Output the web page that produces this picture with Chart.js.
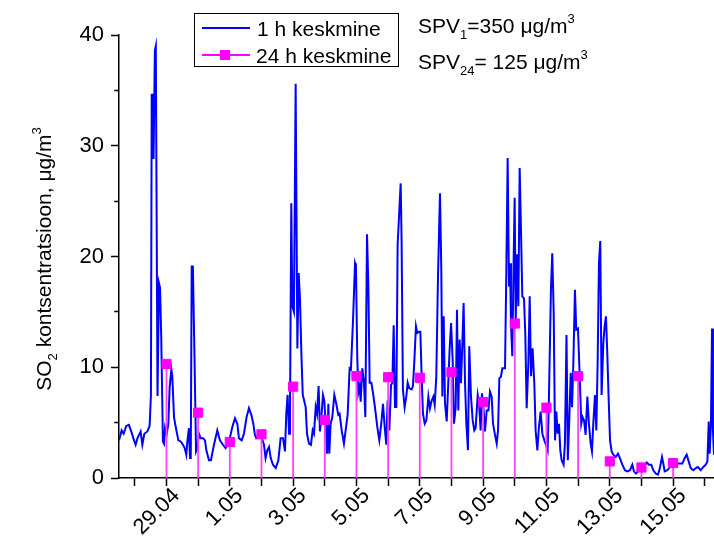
<!DOCTYPE html>
<html>
<head>
<meta charset="utf-8">
<script src="https://cdn.jsdelivr.net/npm/chart.js@4.4.0/dist/chart.umd.min.js"></script>
<style>
  html, body { margin: 0; padding: 0; background: #fff; }
  #wrap { width: 714px; height: 540px; }
</style>
</head>
<body>
<div id="wrap"><canvas id="so2Chart" width="714" height="540"></canvas></div>
<script>
// tunnid alates 27.04 00:00
const hours1h = [
  0, 2, 3.5, 5.5, 7.5, 9.6, 11.4, 12.6, 14, 16.4, 17.7, 19.2, 21.5, 23.2, 24.2, 24.8, 25.6, 26.2, 27.2, 27.9,
  29.2, 30.3, 31.1, 32, 33.3, 34.1, 34.9, 36.1, 37.4, 38.4, 39.7, 40.4, 41.7, 43, 45, 46.7, 48.5, 49.8, 51, 51.8,
  53, 53.8, 54.4, 55.1, 56, 57.3, 58.4, 59.4, 60.6, 61.9, 63.7, 65.2, 66.2, 68.2, 69.7, 72, 74.5, 76.5, 78.8, 80.8,
  83.4, 85.9, 87.9, 89.7, 90.9, 93, 94.7, 96.7, 98.5, 100.3, 101.8, 103, 104, 106, 108, 109.9, 111.1, 112.4, 113.7, 115,
  116.7, 118.8, 120.8, 122.5, 124.3, 125.8, 126.8, 127.8, 128.9, 129.6, 130.6, 131.4, 132.6, 133.9, 135.2, 136.2, 137.2, 138.3, 139.3, 140.5,
  141.5, 142.5, 144, 145.5, 146.8, 147.8, 149.1, 150.1, 151.3, 152.3, 153.4, 154.6, 155.6, 156.6, 157.7, 158.7, 159.4, 160.4, 161.7, 163.2,
  164.7, 166.2, 167.2, 168.8, 170.5, 172.1, 173.3, 174.8, 175.8, 177.4, 178.9, 179.6, 180.6, 181.4, 182.4, 183.2, 184.4, 185.7, 186.7, 188,
  189, 190, 191.3, 192.5, 194, 195.8, 197.3, 198.8, 200.1, 201.4, 202.6, 203.6, 204.9, 206.2, 207.2, 208.2, 209.2, 210.2, 211.2, 212.5,
  213.5, 214.2, 215.2, 216.5, 217.8, 218.8, 220, 221.8, 222.8, 223.8, 225.1, 226.1, 227.4, 228.4, 229.4, 230.4, 231.7, 233, 234.5, 235.7,
  237, 238.3, 239.3, 240.5, 241.8, 243.3, 244.3, 245.1, 246.1, 247.1, 248.4, 249.4, 250.6, 251.7, 252.9, 253.9, 255.2, 256.2, 257.2, 258.2,
  259.2, 260.2, 261.2, 262.3, 263.3, 264.5, 265.5, 266.8, 268.1, 269.3, 270.3, 271.9, 272.9, 274.1, 275.1, 276.4, 277.4, 278.7, 280, 281.2,
  282.5, 283.5, 285, 286.3, 287.3, 288.3, 289.5, 290.6, 292.6, 293.6, 294.6, 295.6, 296.4, 297.1, 298.1, 299.1, 299.9, 300.7, 301.7, 302.7,
  303.7, 304.7, 305.7, 307, 308, 309, 310.3, 311.3, 312.3, 313.5, 314.8, 315.8, 317.1, 318.3, 319.6, 320.9, 322.4, 323.6, 324.9, 325.9,
  327.4, 328.4, 329.5, 330.5, 331.5, 332.5, 333.5, 334.5, 335.5, 337, 338, 339.2, 340.2, 341.3, 342.4, 343.4, 344.4, 345.6, 346.6, 347.9,
  349.2, 350.4, 351.4, 352.5, 353.7, 355, 356.2, 357.5, 358.5, 359.5, 360.8, 361.8, 362.8, 363.8, 364.8, 365.8, 367.1, 368.1, 369.1, 370.1,
  371.1, 372.2, 373.4, 374.7, 376.5, 378.2, 379.7, 381.5, 383.5, 385.3, 387.3, 389.1, 390.3, 391.9, 393.4, 395.4, 397.9, 400, 401.7, 403.5,
  405, 406.8, 408.5, 410, 411.6, 412.6, 413.6, 415.6, 417.6, 419.4, 421.2, 423.2, 425.2, 427, 428.8, 430.3, 431.8, 433.3, 435.3, 437.3,
  438.8, 440.9, 442.9, 444.7, 446, 447, 447.7, 448.7, 449.5, 450.2, 451
];
const conc1h = [
  3.4, 4.3, 4.0, 4.7, 4.8, 4.1, 3.4, 3.0, 3.6, 4.2, 3.0, 4.0, 4.2, 4.7, 7.5, 34.6, 34.6, 28.8, 38.6, 39.0,
  7.4, 17.6, 17.2, 12.8, 3.3, 3.1, 4.5, 3.9, 4.9, 8.2, 9.8, 9.2, 5.5, 4.6, 3.4, 3.3, 3.0, 2.7, 2.1, 3.3,
  4.5, 1.8, 1.8, 19.1, 19.1, 10.4, 2.4, 2.7, 4.0, 3.6, 3.6, 3.4, 2.5, 1.6, 1.6, 3.0, 4.3, 3.4, 3.0, 2.7,
  3.3, 4.6, 5.4, 4.9, 3.6, 3.4, 4.0, 5.5, 6.3, 5.7, 4.9, 3.9, 3.6, 3.9, 3.7, 3.0, 1.8, 2.5, 2.8, 1.8,
  1.2, 0.9, 1.6, 3.6, 3.6, 2.4, 5.8, 7.5, 4.0, 5.5, 24.8, 15.5, 15.0, 35.6, 11.7, 18.5, 16.1, 11.0, 7.5, 6.9,
  6.4, 4.0, 3.1, 3.0, 4.3, 4.0, 6.4, 5.8, 8.3, 4.2, 5.5, 7.5, 7.0, 5.0, 2.2, 6.7, 2.2, 4.9, 5.5, 7.5,
  6.7, 5.7, 5.8, 4.3, 3.1, 4.6, 5.7, 9.9, 9.8, 14.3, 19.4, 19.1, 11.0, 7.7, 8.3, 6.9, 9.9, 8.6, 5.5, 22.0,
  17.3, 8.6, 8.6, 7.7, 6.4, 4.6, 3.4, 4.9, 6.7, 4.6, 3.0, 7.0, 4.3, 8.4, 8.6, 13.8, 6.4, 6.4, 21.1, 24.2,
  26.6, 21.5, 8.0, 6.4, 7.4, 8.6, 8.1, 8.0, 8.3, 10.4, 13.7, 13.1, 13.2, 13.2, 9.2, 5.8, 4.9, 5.2, 7.35, 6.3,
  7.0, 7.35, 6.6, 9.2, 18.2, 25.7, 18.8, 7.35, 14.6, 6.75, 5.1, 8.0, 11.6, 14.0, 10.7, 4.9, 6.4, 15.2, 6.1, 12.5,
  8.55, 11.9, 15.8, 8.55, 4.9, 2.5, 11.9, 7.35, 5.2, 4.3, 4.5, 7.5, 6.75, 4.3, 7.65, 6.1, 4.2, 6.1, 6.1, 7.8,
  7.35, 4.9, 3.9, 3.1, 4.3, 9.0, 9.15, 9.9, 9.9, 18.8, 28.9, 17.3, 19.4, 14.0, 11.0, 19.4, 25.3, 14.3, 20.2, 15.5,
  28.0, 22.4, 16.4, 16.2, 12.8, 6.3, 10.4, 16.4, 9.2, 11.7, 8.55, 4.3, 2.5, 4.6, 6.0, 4.0, 3.4, 3.0, 2.5, 7.35,
  17.0, 20.3, 14.9, 3.4, 6.0, 4.0, 4.9, 2.5, 1.6, 1.2, 3.1, 12.9, 1.6, 5.2, 9.5, 6.4, 10.4, 17.0, 13.4, 13.5,
  9.2, 4.9, 5.5, 5.2, 3.9, 7.35, 4.9, 3.1, 2.4, 4.9, 7.5, 4.3, 10.4, 19.4, 21.4, 7.5, 12.2, 13.7, 14.6, 11.3,
  7.35, 3.4, 2.4, 2.1, 1.9, 2.2, 1.8, 1.2, 0.7, 0.6, 0.7, 1.2, 0.6, 0.4, 0.6, 0.7, 1.1, 1.4, 1.2, 1.2,
  0.7, 0.4, 0.3, 0.9, 1.9, 1.3, 0.6, 0.7, 1.0, 1.0, 1.2, 1.3, 1.3, 1.3, 1.8, 2.1, 1.5, 0.9, 0.7, 0.9,
  1.0, 0.7, 1.0, 1.2, 1.5, 5.1, 2.2, 4.9, 13.5, 4.3, 2.1
];

// ööpäeva keskmised (keskpäev)
const hours24h = [36, 60, 84, 108, 132, 156, 180, 204, 228, 252, 276, 300, 324, 348, 372, 396, 420];
const conc24h = [10.3, 5.9, 3.25, 3.95, 8.25, 5.25, 9.2, 9.1, 9.05, 9.55, 6.85, 13.95, 6.35, 9.2, 1.5, 0.95, 1.35];

// telje märgendid
const tickHours = [0, 24, 48, 72, 96, 120, 144, 168, 192, 216, 240, 264, 288, 312, 336, 360, 384, 408, 432];
const labelHours = [48, 96, 144, 192, 240, 288, 336, 384, 432];
const labelTexts = ['29.04', '1.05', '3.05', '5.05', '7.05', '9.05', '11.05', '13.05', '15.05'];

const FONT = '"Liberation Sans", Arial, sans-serif';

// teksti joonistamine ala- ja ülaindeksitega
function drawRich(ctx, parts, x, y, size, center) {
  const small = Math.round(size * 0.62);
  let w = 0;
  parts.forEach(p => {
    ctx.font = (p[1] ? small : size) + 'px ' + FONT;
    w += ctx.measureText(p[0]).width;
  });
  let cx = center ? x - w / 2 : x;
  parts.forEach(p => {
    ctx.font = (p[1] ? small : size) + 'px ' + FONT;
    let dy = 0;
    if (p[1] === 'sub') dy = size * 0.28;
    if (p[1] === 'sup') dy = -size * 0.5;
    ctx.fillText(p[0], cx, y + dy);
    cx += ctx.measureText(p[0]).width;
  });
}

const extrasPlugin = {
  id: 'extras',
  afterDraw(chart) {
    const ctx = chart.ctx;
    ctx.save();
    ctx.fillStyle = '#000';
    ctx.textBaseline = 'alphabetic';
    ctx.textAlign = 'left';

    // legend
    ctx.strokeStyle = '#000';
    ctx.lineWidth = 1;
    ctx.strokeRect(194.5, 13.5, 204, 53);
    ctx.lineWidth = 2;
    ctx.strokeStyle = '#0000ff';
    ctx.beginPath(); ctx.moveTo(202, 28); ctx.lineTo(250, 28); ctx.stroke();
    ctx.strokeStyle = '#ff00ff';
    ctx.beginPath(); ctx.moveTo(202, 55); ctx.lineTo(250, 55); ctx.stroke();
    ctx.fillStyle = '#ff00ff';
    ctx.fillRect(220, 50, 10, 10);
    ctx.fillStyle = '#000';
    ctx.font = '21px ' + FONT;
    ctx.fillText('1 h keskmine', 257, 36);
    ctx.fillText('24 h keskmine', 256, 63);

    // piirväärtused
    drawRich(ctx, [['SPV'], ['1', 'sub'], ['=350 μg/m'], ['3', 'sup']], 418, 33, 21, false);
    drawRich(ctx, [['SPV'], ['24', 'sub'], ['= 125 μg/m'], ['3', 'sup']], 418, 69, 21, false);

    // y-telje pealkiri
    ctx.translate(51, 259);
    ctx.rotate(-Math.PI / 2);
    drawRich(ctx, [['SO'], ['2', 'sub'], [' kontsentratsioon, μg/m'], ['3', 'sup']], 0, 0, 21, true);
    ctx.restore();
  }
};

let ctx = document.getElementById('so2Chart').getContext('2d');
let so2Chart = new Chart(ctx, {
  type: 'line',
  data: {
    datasets: [{
      type: 'line',
      label: '1 h keskmine',
      data: hours1h.map((h, i) => ({ x: h, y: conc1h[i] })),
      borderColor: '#0000ff',
      borderWidth: 2,
      pointRadius: 0,
      tension: 0,
      fill: false,
      order: 3
    }, {
      type: 'bar',
      label: 'püstjooned',
      data: hours24h.map((h, i) => ({ x: h, y: conc24h[i] })),
      backgroundColor: '#ff44ff',
      barThickness: 1.2,
      order: 2
    }, {
      type: 'line',
      label: '24 h keskmine',
      data: hours24h.map((h, i) => ({ x: h, y: conc24h[i] })),
      showLine: false,
      pointStyle: 'rect',
      pointRadius: 6.5,
      pointBorderWidth: 1,
      backgroundColor: '#ff00ff',
      borderColor: '#ff00ff',
      order: 1
    }]
  },
  options: {
    responsive: false,
    animation: false,
    layout: { autoPadding: false, padding: { top: 35, left: 0, right: 0, bottom: 0 } },
    plugins: {
      legend: { display: false },
      tooltip: { enabled: false }
    },
    scales: {
      x: {
        type: 'linear',
        min: 0,
        max: 451,
        offset: false,
        afterBuildTicks: s => { s.ticks = tickHours.map(v => ({ value: v })); },
        afterFit: s => { s.height = 62; s.paddingRight = 0; s.paddingLeft = 0; },
        ticks: {
          autoSkip: false,
          minRotation: 45,
          maxRotation: 45,
          padding: -3,
          labelOffset: -6,
          color: '#000',
          font: { family: FONT, size: 22 },
          callback: v => {
            const i = labelHours.indexOf(v);
            return i >= 0 ? labelTexts[i] : '';
          }
        },
        grid: { drawOnChartArea: false, tickLength: 8, tickColor: '#000', tickWidth: 1.5 },
        border: { color: '#000', width: 1.5 }
      },
      y: {
        min: 0,
        max: 40,
        afterFit: s => { s.width = 119; },
        ticks: {
          stepSize: 5,
          padding: 7,
          color: '#000',
          font: { family: FONT, size: 22 },
          callback: v => (v % 10 === 0 ? v : '')
        },
        grid: {
          drawOnChartArea: false,
          tickLength: 8,
          tickColor: '#000',
          tickWidth: 1.5,
          tickBorderDash: c => (c.tick && c.tick.value % 10 !== 0 ? [0, 3.3, 4, 50] : [])
        },
        border: { color: '#000', width: 1.5 }
      }
    }
  },
  plugins: [extrasPlugin]
});
</script>
</body>
</html>
